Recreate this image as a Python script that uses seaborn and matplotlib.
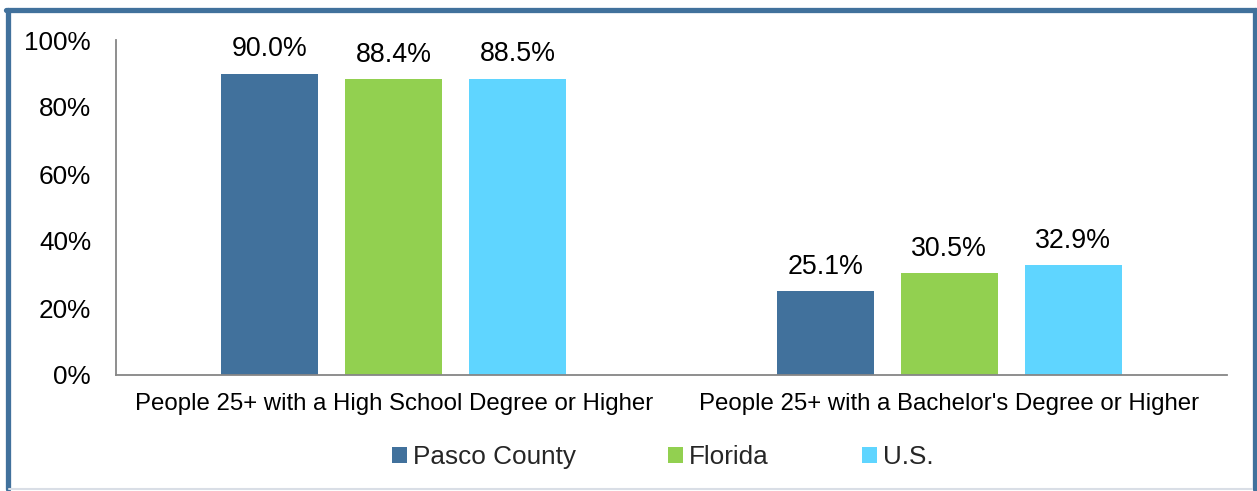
import matplotlib
matplotlib.use("Agg")
import matplotlib.pyplot as plt
from matplotlib.patches import Rectangle
from matplotlib.lines import Line2D
import seaborn as sns
import pandas as pd

categories = ["People 25+ with a High School Degree or Higher",
              "People 25+ with a Bachelor's Degree or Higher"]
series = ["Pasco County", "Florida", "U.S."]
pasco = [90.0, 25.1]
florida = [88.4, 30.5]
us = [88.5, 32.9]
yticks = [0, 20, 40, 60, 80, 100]
colors = ["#41719C", "#92D050", "#5FD5FF"]

rows = []
for name, vals in zip(series, [pasco, florida, us]):
    for c, v in zip(categories, vals):
        rows.append({"Category": c, "Series": name, "Value": v})
df = pd.DataFrame(rows)

sns.set_theme(style="white")
plt.rcParams["font.family"] = ["Liberation Sans", "DejaVu Sans"]

W, H = 1257, 491
fig = plt.figure(figsize=(W / 100, H / 100), dpi=100)
ax = fig.add_axes([116 / W, 1 - 375 / H, (1227 - 116) / W, (375 - 40) / H])

sns.barplot(data=df, x="Category", y="Value", hue="Series", order=categories,
            hue_order=series, palette=colors, width=0.67, gap=0.22,
            saturation=1, ax=ax, legend=False, edgecolor="none")

for cont in ax.containers:
    ax.bar_label(cont, labels=[f"{v:.1f}%" for v in cont.datavalues],
                 padding=8, fontsize=19.3, color="#000000")

ax.set_ylim(0, 100)
ax.set_xlim(-0.5, 1.5)
ax.set_yticks(yticks)
ax.set_yticklabels([f"{t}%" for t in yticks], fontsize=18.8, color="#000000")
ax.tick_params(axis="y", length=0, pad=18)
ax.tick_params(axis="x", length=0, pad=13, labelsize=17.3, labelcolor="#000000")
ax.set_xlabel("")
ax.set_ylabel("")
for s in ["top", "right"]:
    ax.spines[s].set_visible(False)
for s in ["left", "bottom"]:
    ax.spines[s].set_color("#868686")
    ax.spines[s].set_linewidth(1.3)

# legend entries placed at their positions
legend_x = [392, 668, 862]
for name, c, lx in zip(series, colors, legend_x):
    h = Rectangle((0, 0), 1, 1, facecolor=c, edgecolor="none")
    fig.legend([h], [name], loc="center left", bbox_to_anchor=(lx / W, 1 - 457 / H),
               frameon=False, fontsize=18.8, handlelength=0.56, handleheight=0.56,
               handletextpad=0.25, borderpad=0, borderaxespad=0)

# frame
blue = "#41719C"
fig.add_artist(Line2D([7.5 / W, 7.5 / W], [1 - 9.5 / H, 1 - 489 / H], color=blue, lw=3.8,
                      transform=fig.transFigure))
fig.add_artist(Line2D([1254.5 / W, 1254.5 / W], [1 - 9.5 / H, 1 - 489 / H], color=blue, lw=3.8,
                      transform=fig.transFigure))
fig.add_artist(Line2D([5.5 / W, 1256.5 / W], [1 - 9.5 / H, 1 - 9.5 / H], color=blue, lw=3.8,
                      transform=fig.transFigure))
fig.add_artist(Line2D([9 / W, 1252 / W], [1 - 488.5 / H, 1 - 488.5 / H], color="#D9DEE6", lw=1.5,
                      transform=fig.transFigure))

fig.savefig("out.png", dpi=100)
